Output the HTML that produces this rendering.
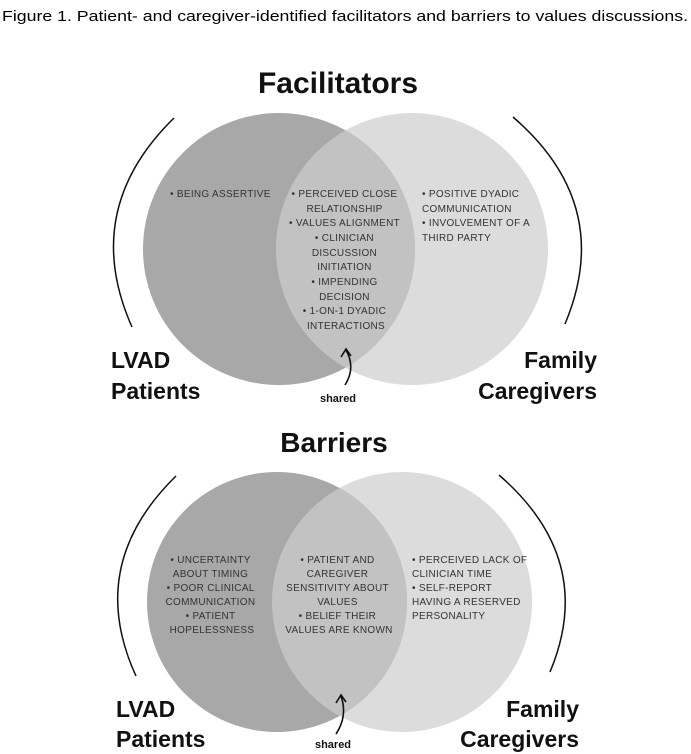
<!DOCTYPE html>
<html><head><meta charset="utf-8"><style>
html,body{margin:0;padding:0;background:#fff;}
svg{display:block}
.t{font-family:"Liberation Sans",Arial,sans-serif;font-size:10px;fill:#333;letter-spacing:0.3px}
.h{font-family:"Liberation Sans",Arial,sans-serif;font-weight:bold;fill:#111}
</style></head><body>
<svg width="691" height="754" viewBox="0 0 691 754" xmlns="http://www.w3.org/2000/svg">
<text x="2" y="21" font-family="Liberation Sans, Arial, sans-serif" font-size="15" fill="#000" textLength="686" lengthAdjust="spacingAndGlyphs">Figure 1. Patient- and caregiver-identified facilitators and barriers to values discussions.</text>

<!-- TOP -->
<text class="h" x="338" y="93" font-size="30" text-anchor="middle">Facilitators</text>
<circle cx="412" cy="249" r="136" fill="#dcdcdc"/>
<circle cx="279" cy="249" r="136" fill="#a8a8a8"/>
<clipPath id="c1"><circle cx="412" cy="249" r="136"/></clipPath>
<circle cx="279" cy="249" r="136" fill="#c2c2c2" clip-path="url(#c1)"/>
<path d="M174,118 Q80,210 132,327" fill="none" stroke="#111" stroke-width="1.5"/>
<path d="M513,117 Q615,205 565,324" fill="none" stroke="#111" stroke-width="1.5"/>
<g class="t">
<text x="170" y="197">• BEING ASSERTIVE</text>
<text text-anchor="middle" x="346">
<tspan x="346" y="197">• PERCEIVED CLOSE</tspan>
<tspan x="346" y="212">RELATIONSHIP</tspan>
<tspan x="346" y="226">• VALUES ALIGNMENT</tspan>
<tspan x="346" y="241">• CLINICIAN</tspan>
<tspan x="346" y="256">DISCUSSION</tspan>
<tspan x="346" y="270">INITIATION</tspan>
<tspan x="346" y="285">• IMPENDING</tspan>
<tspan x="346" y="300">DECISION</tspan>
<tspan x="346" y="314">• 1-ON-1 DYADIC</tspan>
<tspan x="346" y="329">INTERACTIONS</tspan>
</text>
<text><tspan x="422" y="197">• POSITIVE DYADIC</tspan><tspan x="422" y="212">COMMUNICATION</tspan><tspan x="422" y="226">• INVOLVEMENT OF A</tspan><tspan x="422" y="241">THIRD PARTY</tspan></text>
</g>
<path d="M345,385 Q356,368 346,350" fill="none" stroke="#111" stroke-width="1.6"/>
<path d="M341,357 L346,349 L351,356" fill="none" stroke="#111" stroke-width="1.6"/>
<text class="h" x="338" y="402" font-size="11" text-anchor="middle">shared</text>
<text class="h" x="111" y="368" font-size="23">LVAD</text>
<text class="h" x="111" y="399" font-size="23">Patients</text>
<text class="h" x="597" y="368" font-size="23" text-anchor="end">Family</text>
<text class="h" x="597" y="399" font-size="23" text-anchor="end">Caregivers</text>

<!-- BOTTOM -->
<text class="h" x="334" y="452" font-size="28" text-anchor="middle">Barriers</text>
<circle cx="402" cy="602" r="130" fill="#dcdcdc"/>
<circle cx="277" cy="602" r="130" fill="#a8a8a8"/>
<clipPath id="c2"><circle cx="402" cy="602" r="130"/></clipPath>
<circle cx="277" cy="602" r="130" fill="#c2c2c2" clip-path="url(#c2)"/>
<path d="M176,476 Q85,565 136,676" fill="none" stroke="#111" stroke-width="1.5"/>
<path d="M499,475 Q597,560 550,672" fill="none" stroke="#111" stroke-width="1.5"/>
<g class="t">
<text text-anchor="middle">
<tspan x="212" y="563">• UNCERTAINTY</tspan>
<tspan x="212" y="577">ABOUT TIMING</tspan>
<tspan x="212" y="591">• POOR CLINICAL</tspan>
<tspan x="212" y="605">COMMUNICATION</tspan>
<tspan x="212" y="619">• PATIENT</tspan>
<tspan x="212" y="633">HOPELESSNESS</tspan>
</text>
<text text-anchor="middle">
<tspan x="339" y="563">• PATIENT AND</tspan>
<tspan x="339" y="577">CAREGIVER</tspan>
<tspan x="339" y="591">SENSITIVITY ABOUT</tspan>
<tspan x="339" y="605">VALUES</tspan>
<tspan x="339" y="619">• BELIEF THEIR</tspan>
<tspan x="339" y="633">VALUES ARE KNOWN</tspan>
</text>
<text><tspan x="412" y="563">• PERCEIVED LACK OF</tspan><tspan x="412" y="577">CLINICIAN TIME</tspan><tspan x="412" y="591">• SELF-REPORT</tspan><tspan x="412" y="605">HAVING A RESERVED</tspan><tspan x="412" y="619">PERSONALITY</tspan></text>
</g>
<path d="M336,734 Q348,716 341,696" fill="none" stroke="#111" stroke-width="1.6"/>
<path d="M336,703 L341,695 L346,702" fill="none" stroke="#111" stroke-width="1.6"/>
<text class="h" x="333" y="748" font-size="11" text-anchor="middle">shared</text>
<text class="h" x="116" y="717" font-size="23">LVAD</text>
<text class="h" x="116" y="747" font-size="23">Patients</text>
<text class="h" x="579" y="717" font-size="23" text-anchor="end">Family</text>
<text class="h" x="579" y="747" font-size="23" text-anchor="end">Caregivers</text>
</svg>
</body></html>
